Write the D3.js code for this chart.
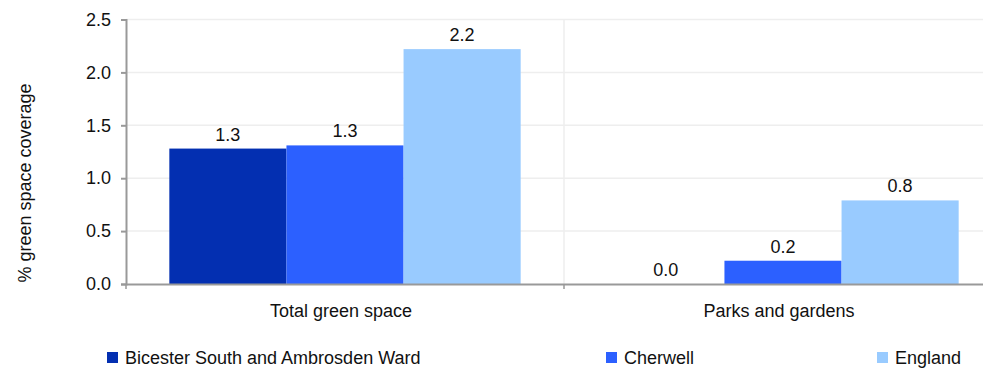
<!DOCTYPE html>
<html>
<head>
<meta charset="utf-8">
<script src="https://cdn.jsdelivr.net/npm/d3@7"></script>
<style>
  body { margin: 0; background: #fff; }
  text { font-family: "Liberation Sans", Arial, sans-serif; fill: #111; }
</style>
</head>
<body>
<div id="chart"></div>
<script>
// data
var categories = ["Total green space", "Parks and gardens"];
var seriesNames = ["Bicester South and Ambrosden Ward", "Cherwell", "England"];
var bicester = [1.28, 0.0];
var cherwell = [1.31, 0.22];
var england = [2.22, 0.79];
var yTicks = [0, 0.5, 1.0, 1.5, 2.0, 2.5];
var colours = ["#032fb1", "#2c60ff", "#99cbff"];

var width = 983, height = 368;
var margin = { top: 19.5, left: 126, bottom: 84 };
var plotRight = 1002; // plot runs past the visible edge
var y0 = height - margin.bottom;
var fs = "18px";

var svg = d3.select("#chart").append("svg")
  .attr("width", width)
  .attr("height", height);

var rows = categories.map(function (c, i) {
  return { cat: c, vals: [bicester[i], cherwell[i], england[i]] };
});

var x = d3.scaleBand().domain(categories).range([margin.left, plotRight]);
var xInner = d3.scaleBand().domain(seriesNames).range([0, x.bandwidth()]).paddingOuter(0.37);
var y = d3.scaleLinear().domain([0, 2.5]).range([y0, margin.top]);

// horizontal grid
svg.append("g").selectAll("line").data(yTicks.slice(1)).join("line")
  .attr("x1", margin.left).attr("x2", width)
  .attr("y1", function (d) { return y(d); }).attr("y2", function (d) { return y(d); })
  .attr("stroke", "#eeeeee").attr("stroke-width", 1.5);

// vertical grid between categories
svg.append("line")
  .attr("x1", x(categories[1])).attr("x2", x(categories[1]))
  .attr("y1", margin.top).attr("y2", y0)
  .attr("stroke", "#eeeeee").attr("stroke-width", 1.5);

// bars
var groups = svg.append("g").selectAll("g").data(rows).join("g")
  .attr("transform", function (d) { return "translate(" + x(d.cat) + ",0)"; });

groups.selectAll("rect")
  .data(function (d) { return d.vals.map(function (v, i) { return { name: seriesNames[i], v: v, i: i }; }); })
  .join("rect")
  .attr("x", function (d) { return xInner(d.name); })
  .attr("width", xInner.bandwidth())
  .attr("y", function (d) { return y(d.v); })
  .attr("height", function (d) { return y0 - y(d.v); })
  .attr("fill", function (d) { return colours[d.i]; });

groups.selectAll("text.val")
  .data(function (d) { return d.vals.map(function (v, i) { return { name: seriesNames[i], v: v }; }); })
  .join("text")
  .attr("class", "val")
  .attr("x", function (d) { return xInner(d.name) + xInner.bandwidth() / 2; })
  .attr("y", function (d) { return y(d.v) - 8; })
  .attr("text-anchor", "middle")
  .attr("font-size", fs)
  .text(function (d) { return d3.format(".1f")(d.v); });

// y axis
var yAxis = svg.append("g")
  .attr("transform", "translate(" + margin.left + ",0)")
  .call(d3.axisLeft(y).tickValues(yTicks).tickFormat(d3.format(".1f")).tickSize(5).tickPadding(10));
yAxis.select(".domain").attr("stroke", "#999").attr("stroke-width", 2);
yAxis.selectAll(".tick line").attr("stroke", "#999").attr("stroke-width", 2);
yAxis.selectAll("text").attr("font-size", fs).attr("fill", "#111")
  .style("font-family", "'Liberation Sans', Arial, sans-serif");

// x axis
var xAxis = svg.append("g")
  .attr("transform", "translate(0," + y0 + ")")
  .call(d3.axisBottom(x).tickValues([]).tickSizeOuter(0));
xAxis.select(".domain").attr("stroke", "#999").attr("stroke-width", 2);
xAxis.selectAll(".tick").remove();

// ticks at category boundaries
svg.append("g").selectAll("line")
  .data([margin.left, x(categories[1])])
  .join("line")
  .attr("x1", function (d) { return d; }).attr("x2", function (d) { return d; })
  .attr("y1", y0).attr("y2", y0 + 5)
  .attr("stroke", "#999").attr("stroke-width", 1.5);

svg.append("g").selectAll("text").data(categories).join("text")
  .attr("x", function (d) { return x(d) + x.bandwidth() / 2 - 4; })
  .attr("y", y0 + 33)
  .attr("text-anchor", "middle")
  .attr("font-size", fs)
  .text(function (d) { return d; });

// y title
svg.append("text")
  .attr("transform", "translate(31,183) rotate(-90)")
  .attr("text-anchor", "middle")
  .attr("font-size", fs)
  .text("% green space coverage");

// legend
var legendX = [107, 606, 877];
var legend = svg.append("g").selectAll("g").data(seriesNames).join("g")
  .attr("transform", function (d, i) { return "translate(" + legendX[i] + ",352)"; });
legend.append("rect")
  .attr("width", 11).attr("height", 11)
  .attr("fill", function (d, i) { return colours[i]; });
legend.append("text")
  .attr("x", 18).attr("y", 11.5)
  .attr("font-size", fs)
  .text(function (d) { return d; });
</script>
</body>
</html>
